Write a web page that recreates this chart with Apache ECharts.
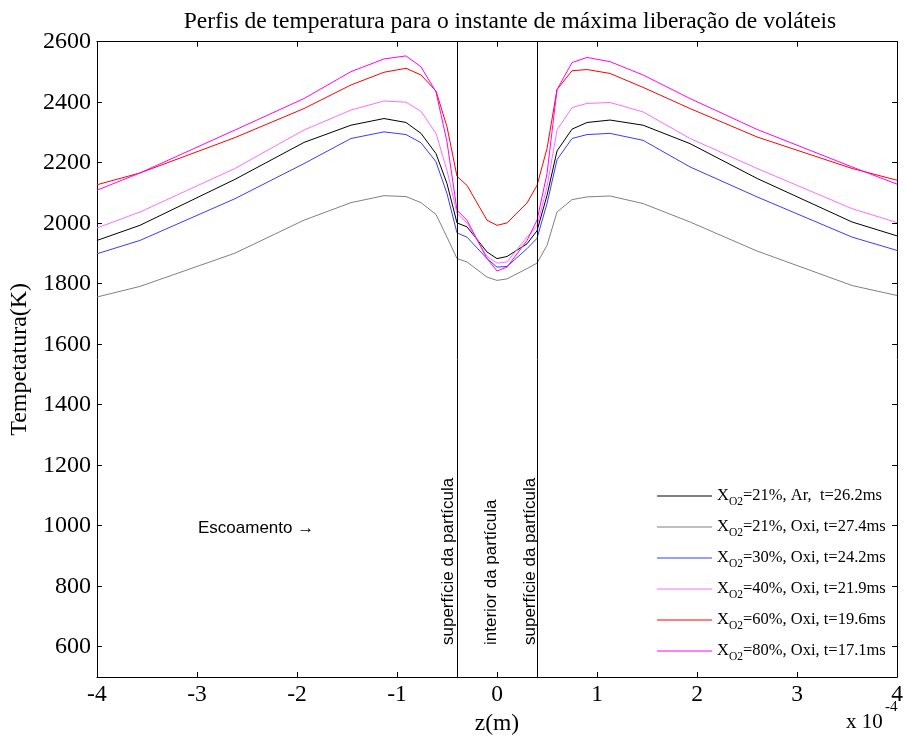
<!DOCTYPE html>
<html>
<head>
<meta charset="utf-8">
<script src="https://cdn.jsdelivr.net/npm/echarts@6/dist/echarts.min.js"></script>
<style>
  html, body { margin: 0; padding: 0; background: #fff; }
  #chart { width: 906px; height: 742px; }
</style>
</head>
<body>
<div id="chart"></div>
<script>
// Axial position (units of 1e-4 m)
const z = [-4, -3.57, -2.62, -1.93, -1.46, -1.13, -0.91, -0.76, -0.61, -0.5, -0.4,
           -0.3, -0.1, 0, 0.1, 0.3, 0.4,
           0.5, 0.6, 0.75, 0.9, 1.13, 1.46, 1.93, 2.6, 3.55, 4];

// Temperature profiles (K)
const tAr21 = [1943, 1993, 2145, 2267, 2324, 2346, 2333, 2297, 2230, 2131, 2001,
               1988, 1905, 1883, 1890, 1932, 1975,
               2092, 2239, 2311, 2333, 2341, 2324, 2263, 2148, 2004, 1958];
const tOxi21 = [1756, 1791, 1901, 2010, 2068, 2091, 2088, 2068, 2029, 1954, 1883,
                1872, 1822, 1811, 1816, 1850, 1868,
                1927, 2037, 2078, 2087, 2090, 2065, 2004, 1908, 1794, 1761];
const tOxi30 = [1899, 1943, 2081, 2197, 2280, 2302, 2293, 2266, 2203, 2098, 1968,
                1954, 1883, 1855, 1857, 1916, 1950,
                2065, 2210, 2280, 2293, 2297, 2274, 2186, 2087, 1954, 1910];
const tOxi40 = [1984, 2037, 2181, 2308, 2374, 2404, 2400, 2370, 2297, 2175, 2032,
                2001, 1890, 1868, 1872, 1954, 1990,
                2120, 2308, 2382, 2396, 2399, 2368, 2280, 2181, 2048, 2002];
const tOxi60 = [2127, 2166, 2283, 2379, 2457, 2499, 2512, 2490, 2437, 2319, 2155,
                2125, 2010, 1993, 2001, 2067, 2125,
                2247, 2442, 2504, 2508, 2495, 2449, 2379, 2285, 2181, 2142];
const tOxi80 = [2109, 2166, 2308, 2412, 2501, 2543, 2553, 2517, 2434, 2269, 2043,
                2010, 1883, 1842, 1855, 1943, 2010,
                2164, 2442, 2531, 2548, 2534, 2490, 2412, 2310, 2186, 2129];

// Legend labels
const seriesNames = [
  'XO2=21%, Ar,  t=26.2ms',
  'XO2=21%, Oxi, t=27.4ms',
  'XO2=30%, Oxi, t=24.2ms',
  'XO2=40%, Oxi, t=21.9ms',
  'XO2=60%, Oxi, t=19.6ms',
  'XO2=80%, Oxi, t=17.1ms'
];
const seriesData = [tAr21, tOxi21, tOxi30, tOxi40, tOxi60, tOxi80];
const seriesColors = ['#000000', '#808080', '#3a3aff', '#ff6cff', '#ff0000', '#ff00ff'];

// Particle surface positions
const particleEdges = [-0.4, 0.4];

// Axis ticks
const xTicks = [-4, -3, -2, -1, 0, 1, 2, 3, 4];
const yTicks = [600, 800, 1000, 1200, 1400, 1600, 1800, 2000, 2200, 2400, 2600];

const serif = "'Liberation Serif', 'Times New Roman', serif";
const sans = "'Liberation Sans', Arial, sans-serif";

const chart = echarts.init(document.getElementById('chart'), null, { renderer: 'canvas' });

const axisLine = { show: true, onZero: false, lineStyle: { color: '#000', width: 1 } };
const tickStyle = { show: true, inside: true, length: 5, lineStyle: { color: '#000', width: 1 } };

const series = seriesNames.map((name, i) => ({
  name: name,
  type: 'line',
  data: z.map((v, k) => [v, seriesData[i][k]]),
  symbol: 'none',
  lineStyle: { color: seriesColors[i], width: 1 },
  itemStyle: { color: seriesColors[i] },
  silent: true
}));

series[0].markLine = {
  silent: true,
  symbol: 'none',
  label: { show: false },
  lineStyle: { color: '#000', width: 1, type: 'solid' },
  data: particleEdges.map(v => ({ xAxis: v }))
};

const option = {
  animation: false,
  backgroundColor: '#fff',
  title: {
    text: 'Perfis de temperatura para o instante de máxima liberação de voláteis',
    left: 505,
    top: 5,
    textAlign: 'center',
    textStyle: { fontFamily: serif, fontSize: 23.5, fontWeight: 'normal', color: '#000' }
  },
  grid: { left: 96.5, right: 4.5, top: 41.7, bottom: 65 },
  legend: {
    orient: 'vertical',
    left: 657,
    top: 484,
    padding: 0,
    icon: 'rect',
    itemWidth: 55,
    itemHeight: 1,
    itemGap: 7,
    data: seriesNames,
    textStyle: {
      fontFamily: serif, fontSize: 16.5, color: '#000', lineHeight: 24,
      rich: {
        x: { fontFamily: serif, fontSize: 16.5, color: '#000', lineHeight: 24 },
        sub: { fontFamily: serif, fontSize: 11.5, color: '#000', lineHeight: 24, verticalAlign: 'bottom' }
      }
    },
    formatter: name => name.replace('XO2', '{x|X}{sub|O2}')
  },
  xAxis: [
    {
      type: 'value', min: -4, max: 4, interval: 1, position: 'bottom',
      axisLine: axisLine,
      axisTick: tickStyle,
      splitLine: { show: false },
      axisLabel: { color: '#000', fontFamily: serif, fontSize: 23.5, margin: 6,
                   customValues: xTicks },
      name: 'z(m)', nameLocation: 'middle', nameGap: 29,
      nameTextStyle: { color: '#000', fontFamily: serif, fontSize: 23.5 }
    },
    {
      type: 'value', min: -4, max: 4, interval: 1, position: 'top',
      axisLine: axisLine,
      axisTick: tickStyle,
      splitLine: { show: false },
      axisLabel: { show: false }
    }
  ],
  yAxis: [
    {
      type: 'value', min: 500, max: 2600, position: 'left',
      axisLine: axisLine,
      axisTick: Object.assign({ customValues: yTicks }, tickStyle),
      splitLine: { show: false },
      axisLabel: { color: '#000', fontFamily: serif, fontSize: 24, margin: 6,
                   customValues: yTicks, formatter: v => String(v) },
      name: 'Tempetatura(K)', nameLocation: 'middle', nameGap: 62,
      nameTextStyle: { color: '#000', fontFamily: serif, fontSize: 24 }
    },
    {
      type: 'value', min: 500, max: 2600, position: 'right',
      axisLine: axisLine,
      axisTick: Object.assign({ customValues: yTicks }, tickStyle),
      splitLine: { show: false },
      axisLabel: { show: false }
    }
  ],
  series: series,
  graphic: [
    {
      type: 'text', x: 198, y: 528,
      style: { text: 'Escoamento →', font: '17px ' + sans, fill: '#000',
               textAlign: 'left', textVerticalAlign: 'middle' }
    },
    {
      type: 'text', x: 448, y: 645, rotation: Math.PI / 2,
      style: { text: 'superfície da partícula', font: '17px ' + sans, fill: '#000',
               textAlign: 'left', textVerticalAlign: 'middle' }
    },
    {
      type: 'text', x: 491, y: 645, rotation: Math.PI / 2,
      style: { text: 'interior da partícula', font: '17px ' + sans, fill: '#000',
               textAlign: 'left', textVerticalAlign: 'middle' }
    },
    {
      type: 'text', x: 530, y: 645, rotation: Math.PI / 2,
      style: { text: 'superfície da partícula', font: '17px ' + sans, fill: '#000',
               textAlign: 'left', textVerticalAlign: 'middle' }
    },
    {
      type: 'text', x: 846, y: 722,
      style: { text: 'x 10', font: '21px ' + serif, fill: '#000',
               textAlign: 'left', textVerticalAlign: 'middle' }
    },
    {
      type: 'text', x: 885, y: 707,
      style: { text: '-4', font: '15px ' + serif, fill: '#000',
               textAlign: 'left', textVerticalAlign: 'middle' }
    }
  ]
};

chart.setOption(option);
</script>
</body>
</html>
